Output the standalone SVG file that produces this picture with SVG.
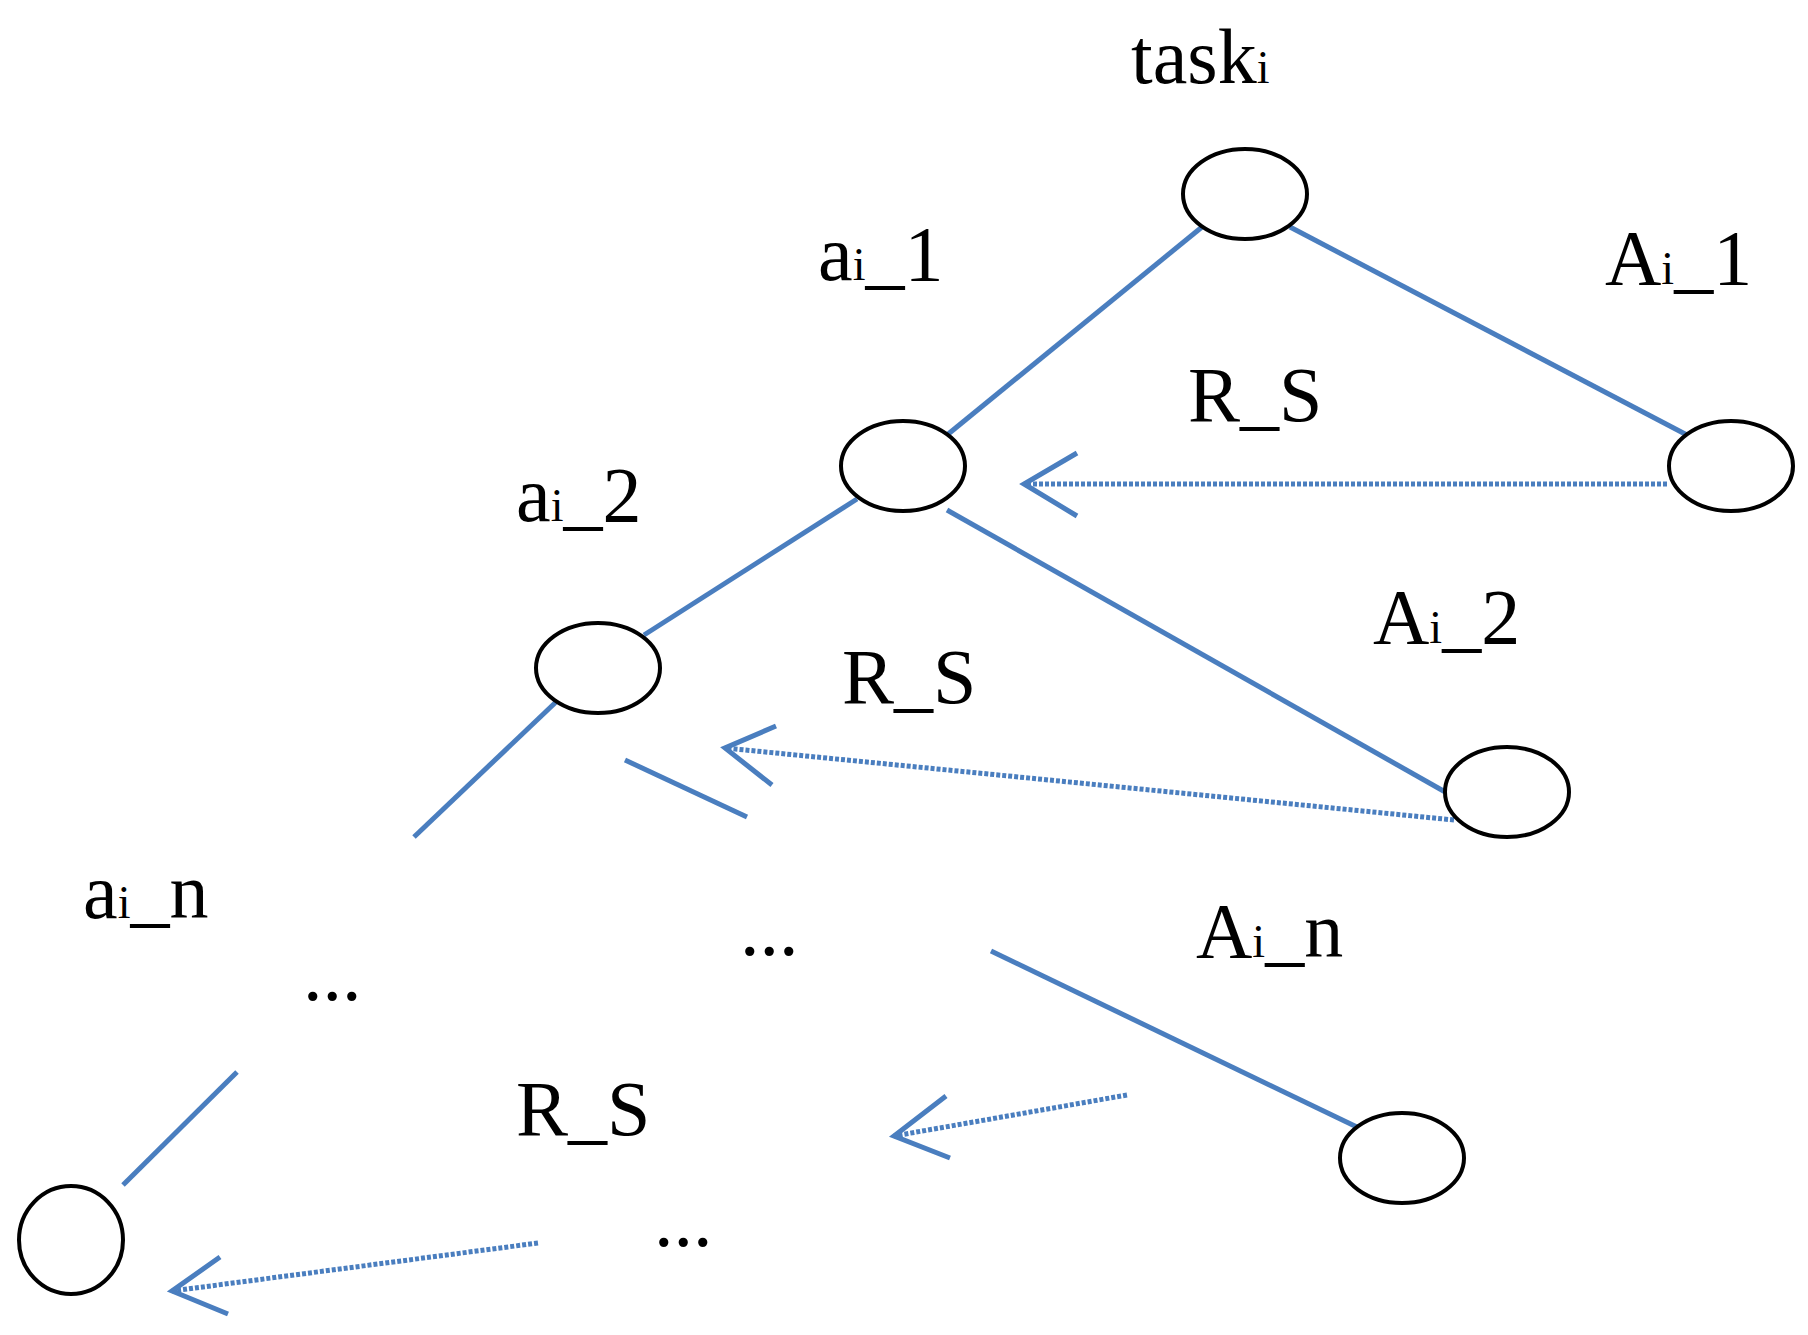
<svg xmlns="http://www.w3.org/2000/svg" width="1808" height="1335" viewBox="0 0 1808 1335">
<style>
.n{fill:#fff;stroke:#000;stroke-width:4}
.l{stroke:#4a7ebf;stroke-width:5;fill:none}
.d{stroke:#4a7ebf;stroke-width:5;fill:none;stroke-dasharray:4 2}
.h{stroke:#4a7ebf;stroke-width:5;fill:none}
text{font-family:"Liberation Serif",serif;font-size:78px;fill:#000}
.s{font-size:46px}
</style>
<rect width="1808" height="1335" fill="#fff"/>
<g id="connectors">
<line class="l" x1="1202" y1="227" x2="947" y2="435"/>
<line class="l" x1="1290" y1="227" x2="1687" y2="435"/>
<line class="l" x1="857" y1="499" x2="644" y2="635"/>
<line class="l" x1="947" y1="510" x2="1447" y2="793"/>
<line class="l" x1="556" y1="702" x2="414" y2="837"/>
<line class="l" x1="625" y1="760" x2="747" y2="817"/>
<line class="l" x1="991" y1="951" x2="1359" y2="1128"/>
<line class="l" x1="237" y1="1072" x2="123" y2="1185"/>
<line class="d" x1="1667" y1="484" x2="1024" y2="484"/>
<polyline class="h" points="1077,453 1024,484 1077,516"/>
<line class="d" x1="1454" y1="820" x2="725" y2="748"/>
<polyline class="h" points="776,726 725,748 772,785"/>
<line class="d" x1="1127" y1="1095" x2="894" y2="1136"/>
<polyline class="h" points="946,1096 894,1136 950,1158"/>
<line class="d" x1="538" y1="1243" x2="172" y2="1291"/>
<polyline class="h" points="220,1257 172,1291 228,1314"/>
</g>
<g id="n_task"><ellipse class="n" cx="1245" cy="194" rx="62" ry="45"/></g>
<g id="n_a1"><ellipse class="n" cx="903" cy="466" rx="62" ry="45"/></g>
<g id="n_A1"><ellipse class="n" cx="1731" cy="466" rx="62" ry="45"/></g>
<g id="n_a2"><ellipse class="n" cx="598" cy="668" rx="62" ry="45"/></g>
<g id="n_A2"><ellipse class="n" cx="1507" cy="792" rx="62" ry="45"/></g>
<g id="n_An"><ellipse class="n" cx="1402" cy="1158" rx="62" ry="45"/></g>
<g id="n_an"><ellipse class="n" cx="71" cy="1240" rx="52" ry="54"/></g>
<g id="labels">
<text x="1131" y="83">task<tspan class="s">i</tspan></text>
<text x="818" y="280">a<tspan class="s">i</tspan>_1</text>
<text x="1605" y="284">A<tspan class="s">i</tspan>_1</text>
<text x="1188" y="421">R_S</text>
<text x="516" y="521">a<tspan class="s">i</tspan>_2</text>
<text x="1373" y="643">A<tspan class="s">i</tspan>_2</text>
<text x="842" y="703">R_S</text>
<text x="83" y="918">a<tspan class="s">i</tspan>_n</text>
<text x="740" y="955">...</text>
<text x="1196" y="957">A<tspan class="s">i</tspan>_n</text>
<text x="303" y="1000">...</text>
<text x="516" y="1135">R_S</text>
<text x="654" y="1246">...</text>
</g>
</svg>
